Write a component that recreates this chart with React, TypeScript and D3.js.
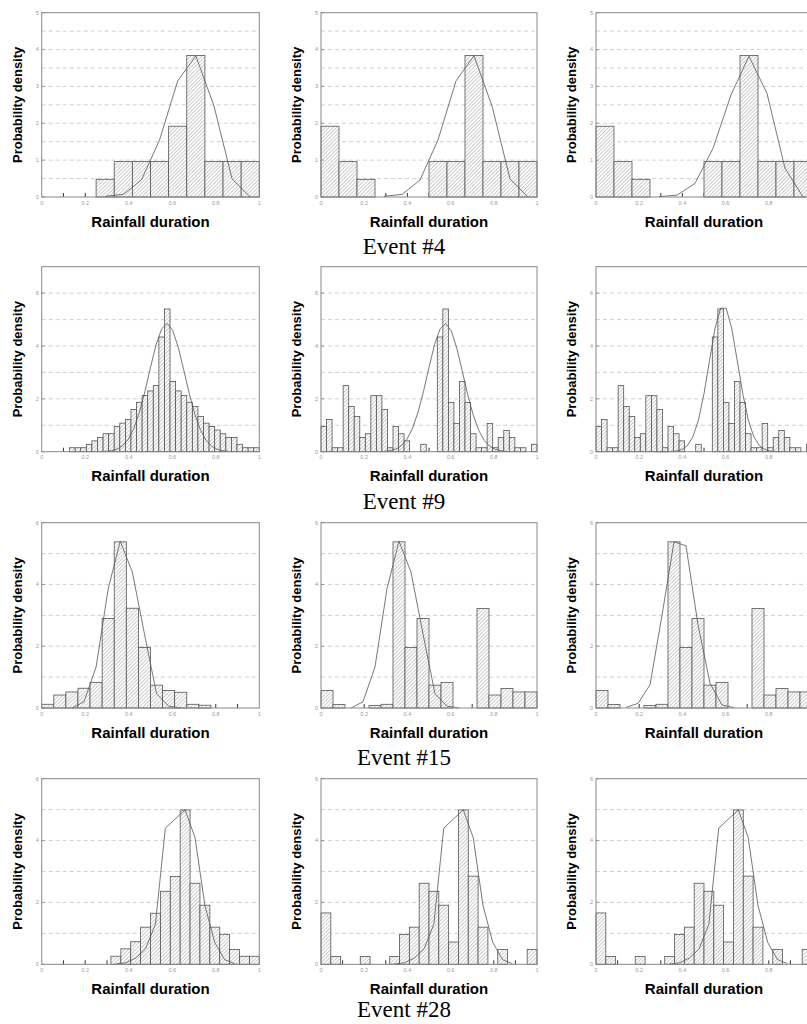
import React from 'react';
import * as d3 from 'd3';

// ---------------- data ----------------
const eventLabels = ['Event #4', 'Event #9', 'Event #15', 'Event #28'];
const xTickValues = [0, 0.2, 0.4, 0.6, 0.8, 1];
const xTickLabels = ['0', '0.2', '0.4', '0.6', '0.8', '1'];
const minorTickValues = [0.1, 0.2, 0.3, 0.4, 0.5, 0.6, 0.7, 0.8, 0.9];
const yTicksRow1 = [0, 1, 2, 3, 4, 5];
const yTicksRow2 = [0, 2, 4, 6];
const yTicksRow3 = [0, 2, 4, 6];
const yTicksRow4 = [0, 2, 4, 6];

// Event #4 — 12 bins on [0,1]
const ev4HistA = [0, 0, 0, 0.48, 0.96, 0.96, 0.96, 1.92, 3.84, 0.96, 0.96, 0.96];
const ev4HistB = [1.92, 0.96, 0.48, 0, 0, 0, 0.96, 0.96, 3.84, 0.96, 0.96, 0.96];
const ev4HistC = [1.92, 0.96, 0.48, 0, 0, 0, 0.96, 0.96, 3.84, 0.96, 0.96, 0.96];
const ev4CurveX = [0.2917, 0.375, 0.4583, 0.5417, 0.625, 0.7083, 0.7917, 0.875, 0.9583];
const ev4CurveA = [0.02, 0.07, 0.46, 1.55, 3.15, 3.83, 2.47, 0.49, 0.0];
const ev4CurveB = [0.02, 0.07, 0.46, 1.55, 3.15, 3.83, 2.47, 0.49, 0.0];
const ev4CurveC = [0.01, 0.05, 0.37, 1.32, 2.77, 3.82, 2.81, 0.78, 0.0];

// Event #9 — 39 bins on [0,1]
const ev9HistA = [0, 0, 0, 0, 0, 0.15, 0.15, 0.15, 0.28, 0.41, 0.54, 0.68, 0.68, 0.95, 1.08, 1.22, 1.6, 1.87, 2.13, 2.3, 2.5, 4.34, 5.4, 2.66, 2.3, 2.13, 1.87, 1.71, 1.33, 1.08, 0.95, 0.82, 0.68, 0.54, 0.54, 0.28, 0.15, 0.15, 0.15];
const ev9HistB = [0.95, 1.22, 0.15, 0.15, 2.5, 1.71, 1.33, 0.54, 0.68, 2.12, 2.12, 1.6, 0.15, 0.95, 0.68, 0.41, 0, 0, 0.28, 0, 0, 4.34, 5.4, 1.86, 1.07, 2.66, 1.86, 0.68, 0.15, 0.15, 1.07, 0.15, 0.54, 0.8, 0.54, 0.15, 0.15, 0, 0.28];
const ev9HistC = [0.95, 1.22, 0.15, 0.15, 2.5, 1.71, 1.33, 0.54, 0.68, 2.12, 2.12, 1.6, 0.15, 0.95, 0.68, 0.41, 0, 0, 0.28, 0, 0, 4.34, 5.4, 1.86, 1.07, 2.66, 1.86, 0.68, 0.15, 0.15, 1.07, 0.15, 0.54, 0.8, 0.54, 0.15, 0.15, 0, 0.28];
const ev9CurveX = [0.2692, 0.2949, 0.3205, 0.3462, 0.3718, 0.3974, 0.4231, 0.4487, 0.4744, 0.5, 0.5256, 0.5513, 0.5769, 0.6026, 0.6282, 0.6538, 0.6795, 0.7051, 0.7308, 0.7564, 0.7821, 0.8077, 0.8333, 0.859];
const ev9CurveA = [0.005, 0.014, 0.039, 0.099, 0.225, 0.465, 0.873, 1.48, 2.28, 3.19, 4.05, 4.65, 4.85, 4.58, 3.93, 3.06, 2.15, 1.38, 0.8, 0.42, 0.2, 0.086, 0.034, 0.012];
const ev9CurveB = [0.005, 0.014, 0.039, 0.099, 0.225, 0.465, 0.873, 1.48, 2.28, 3.19, 4.05, 4.65, 4.85, 4.58, 3.93, 3.06, 2.15, 1.38, 0.8, 0.42, 0.2, 0.086, 0.034, 0.012];
const ev9CurveC = [0, 0, 0.001, 0.006, 0.024, 0.08, 0.23, 0.565, 1.2, 2.2, 3.45, 4.67, 5.43, 5.43, 4.67, 3.45, 2.2, 1.2, 0.565, 0.23, 0.08, 0.024, 0.006, 0.001];

// Event #15 — 18 bins on [0,1]
const ev15HistA = [0.12, 0.42, 0.52, 0.64, 0.83, 2.9, 5.38, 3.23, 1.96, 0.74, 0.57, 0.51, 0.12, 0.09, 0, 0, 0, 0];
const ev15HistB = [0.57, 0.11, 0, 0, 0.08, 0.12, 5.38, 1.96, 2.9, 0.74, 0.83, 0, 0, 3.22, 0.42, 0.63, 0.52, 0.52];
const ev15HistC = [0.57, 0.11, 0, 0, 0.08, 0.12, 5.38, 1.96, 2.9, 0.74, 0.83, 0, 0, 3.22, 0.42, 0.63, 0.52, 0.52];
const ev15CurveX = [0.1389, 0.1944, 0.25, 0.3056, 0.3611, 0.4167, 0.4722, 0.5278, 0.5833, 0.6389];
const ev15CurveA = [0, 0.2, 1.33, 3.86, 5.4, 4.4, 2.4, 0.46, 0.06, 0];
const ev15CurveB = [0, 0.2, 1.33, 3.86, 5.4, 4.4, 2.4, 0.46, 0.06, 0];
const ev15CurveC = [0.02, 0.15, 0.75, 3.0, 5.38, 5.25, 2.7, 0.8, 0.1, 0.01];

// Event #28 — 22 bins on [0,1]
const ev28HistA = [0, 0, 0, 0, 0, 0, 0, 0.26, 0.5, 0.73, 1.2, 1.65, 2.36, 2.84, 4.99, 2.62, 1.91, 1.2, 0.97, 0.48, 0.26, 0.26];
const ev28HistB = [1.66, 0.25, 0, 0, 0.25, 0, 0, 0.25, 0.96, 1.2, 2.62, 2.36, 1.91, 0.72, 4.99, 2.85, 1.2, 0, 0.48, 0, 0, 0.48];
const ev28HistC = [1.66, 0.25, 0, 0, 0.25, 0, 0, 0.25, 0.96, 1.2, 2.62, 2.36, 1.91, 0.72, 4.99, 2.85, 1.2, 0, 0.48, 0, 0, 0.48];
const ev28CurveX = [0.3409, 0.3864, 0.4318, 0.4773, 0.5227, 0.5682, 0.6136, 0.6591, 0.7045, 0.75, 0.7955, 0.8409, 0.8864];
const ev28CurveA = [0.01, 0.05, 0.2, 0.5, 1.3, 4.4, 4.7, 4.99, 4.1, 1.9, 0.7, 0.15, 0.02];
const ev28CurveB = [0.01, 0.05, 0.2, 0.5, 1.3, 4.4, 4.7, 4.99, 4.1, 1.9, 0.7, 0.15, 0.02];
const ev28CurveC = [0.01, 0.05, 0.2, 0.5, 1.3, 4.4, 4.7, 4.99, 4.1, 1.9, 0.7, 0.15, 0.02];

// ---------------- layout ----------------
const PAGE_W = 807;
const PAGE_H = 1024;
const COLS = [
  { left: 41.7, width: 217.6 },
  { left: 321, width: 216 },
  { left: 596, width: 216 },
];
const ROWS = [
  { top: 12.7, bottom: 197, yMax: 5, grid: 0.5, yTicks: yTicksRow1, labelDy: 57 },
  { top: 266.7, bottom: 451.7, yMax: 7, grid: 1, yTicks: yTicksRow2, labelDy: 57 },
  { top: 522.7, bottom: 708, yMax: 6, grid: 1, yTicks: yTicksRow3, labelDy: 57 },
  { top: 778.7, bottom: 964.3, yMax: 6, grid: 1, yTicks: yTicksRow4, labelDy: 53 },
];

const PANELS = [
  [
    { hist: ev4HistA, cx: ev4CurveX, cy: ev4CurveA },
    { hist: ev4HistB, cx: ev4CurveX, cy: ev4CurveB },
    { hist: ev4HistC, cx: ev4CurveX, cy: ev4CurveC },
  ],
  [
    { hist: ev9HistA, cx: ev9CurveX, cy: ev9CurveA },
    { hist: ev9HistB, cx: ev9CurveX, cy: ev9CurveB },
    { hist: ev9HistC, cx: ev9CurveX, cy: ev9CurveC },
  ],
  [
    { hist: ev15HistA, cx: ev15CurveX, cy: ev15CurveA },
    { hist: ev15HistB, cx: ev15CurveX, cy: ev15CurveB },
    { hist: ev15HistC, cx: ev15CurveX, cy: ev15CurveC },
  ],
  [
    { hist: ev28HistA, cx: ev28CurveX, cy: ev28CurveA },
    { hist: ev28HistB, cx: ev28CurveX, cy: ev28CurveB },
    { hist: ev28HistC, cx: ev28CurveX, cy: ev28CurveC },
  ],
];

const SANS = "'Liberation Sans', Arial, Helvetica, sans-serif";
const SERIF = "'Liberation Serif', 'Times New Roman', serif";

function Panel({ col, row, hist, cx, cy }: any) {
  const x = d3.scaleLinear().domain([0, 1]).range([col.left, col.left + col.width]);
  const y = d3.scaleLinear().domain([0, row.yMax]).range([row.bottom, row.top]);
  const n = hist.length;
  const grid = d3.range(row.grid, row.yMax - 1e-6, row.grid);
  const line = d3
    .line<number>()
    .x((_, i) => x(cx[i]))
    .y((d) => y(d));
  const midX = (x(0) + x(1)) / 2;
  const midY = (y(0) + y(row.yMax)) / 2;
  return (
    <g>
      {grid.map((g: number) => (
        <line key={'g' + g} x1={x(0)} x2={x(1)} y1={y(g)} y2={y(g)} stroke="#c4c4c4" strokeWidth={0.8} strokeDasharray="4,3" />
      ))}
      {minorTickValues.map((t) => (
        <line key={'m' + t} x1={x(t)} x2={x(t)} y1={y(0)} y2={y(0) - 4} stroke="#333" strokeWidth={1} />
      ))}
      {hist.map((v: number, i: number) =>
        v > 0 ? (
          <rect
            key={'b' + i}
            x={x(i / n)}
            y={y(v)}
            width={x((i + 1) / n) - x(i / n)}
            height={y(0) - y(v)}
            fill="url(#hatch)"
            stroke="#555"
            strokeWidth={0.8}
          />
        ) : null
      )}
      <path d={line(cy) || ''} fill="none" stroke="#555" strokeWidth={0.8} />
      <rect x={x(0)} y={y(row.yMax)} width={x(1) - x(0)} height={y(0) - y(row.yMax)} fill="none" stroke="#888" strokeWidth={1} />
      {row.yTicks.map((t: number) => (
        <g key={'y' + t}>
          <line x1={x(0)} x2={x(0) + 3} y1={y(t)} y2={y(t)} stroke="#888" strokeWidth={0.8} />
          <text x={x(0) - 3} y={y(t)} dy="0.35em" textAnchor="end" fontSize={5.5} fill="#999" fontFamily={SANS}>
            {t}
          </text>
        </g>
      ))}
      {xTickValues.map((t, i) =>
        x(t) + 4 < PAGE_W ? (
          <text key={'x' + t} x={x(t)} y={y(0) + 7.5} textAnchor="middle" fontSize={5.5} fill="#999" fontFamily={SANS}>
            {xTickLabels[i]}
          </text>
        ) : null
      )}
      <text x={midX} y={y(0) + 29.5} textAnchor="middle" fontSize={15} fontWeight="bold" fontFamily={SANS} fill="#000">
        Rainfall duration
      </text>
      <text
        transform={`translate(${x(0) - 20},${midY}) rotate(-90)`}
        textAnchor="middle"
        fontSize={13}
        fontWeight="bold"
        fontFamily={SANS}
        fill="#000"
      >
        Probability density
      </text>
    </g>
  );
}

export default function App() {
  return (
    <svg
      width={PAGE_W}
      height={PAGE_H}
      style={{ position: 'absolute', left: 0, top: 0, background: '#fff' }}
      xmlns="http://www.w3.org/2000/svg"
    >
      <defs>
        <pattern id="hatch" patternUnits="userSpaceOnUse" width={2.6} height={2.6} patternTransform="rotate(45)">
          <rect width={2.6} height={2.6} fill="#fff" />
          <line x1={0} y1={0} x2={0} y2={2.6} stroke="#9a9a9a" strokeWidth={1} />
        </pattern>
      </defs>
      <rect width={PAGE_W} height={PAGE_H} fill="#fff" />
      {ROWS.map((row, ri) => (
        <g key={'r' + ri}>
          {COLS.map((col, ci) => (
            <Panel key={'p' + ci} col={col} row={row} {...PANELS[ri][ci]} />
          ))}
          <text x={404} y={row.bottom + row.labelDy} textAnchor="middle" fontSize={23} fontFamily={SERIF} fill="#000">
            {eventLabels[ri]}
          </text>
        </g>
      ))}
    </svg>
  );
}
